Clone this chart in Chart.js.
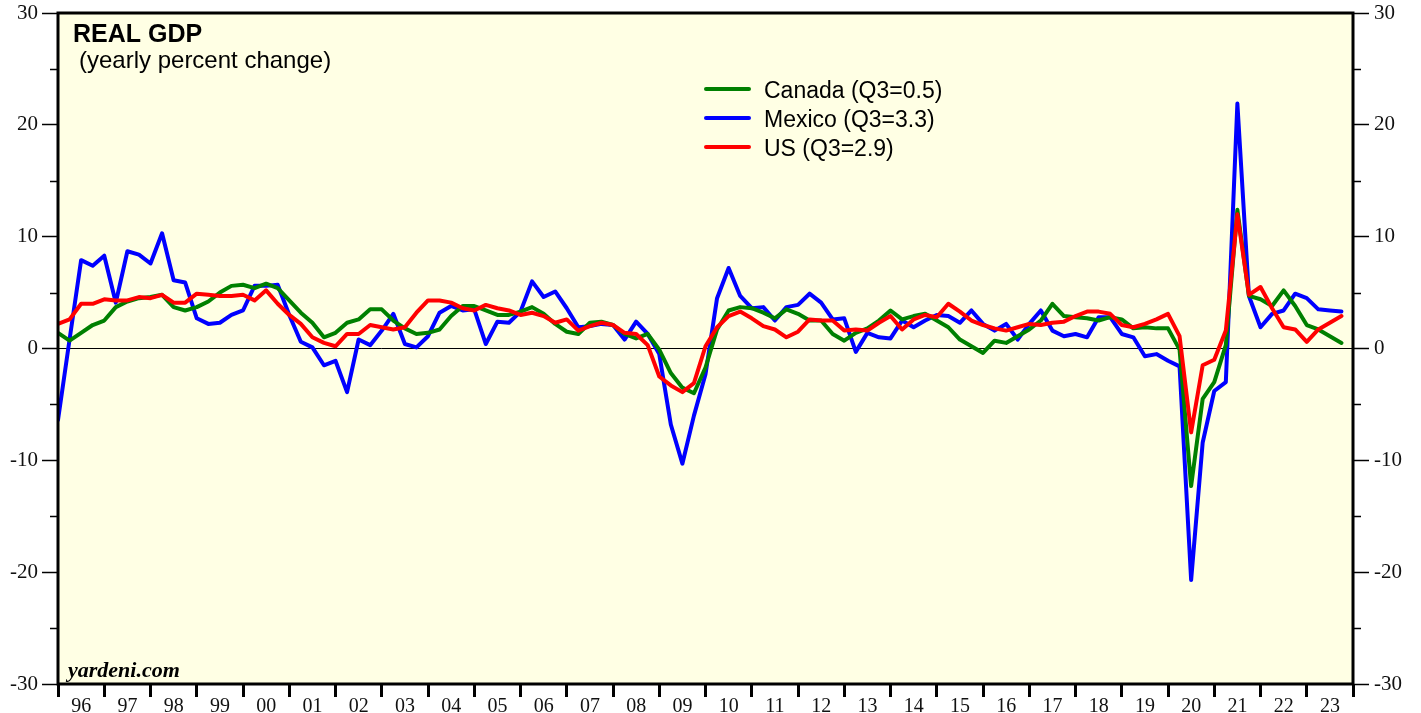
<!DOCTYPE html>
<html>
<head>
<meta charset="utf-8">
<title>Real GDP</title>
<script src="https://cdn.jsdelivr.net/npm/chart.js@4.4.1/dist/chart.umd.min.js"></script>
<style>
  html, body { margin: 0; padding: 0; background: #ffffff; }
  #wrap { width: 1421px; height: 713px; }
</style>
</head>
<body>
<div id="wrap"><canvas id="gdpChart" width="1421" height="713"></canvas></div>
<script>
// year labels under the x axis (one per year, centred in the year)
const yearLabels = ["96", "97", "98", "99", "00", "01", "02", "03", "04", "05", "06", "07", "08", "09",
  "10", "11", "12", "13", "14", "15", "16", "17", "18", "19", "20", "21", "22", "23"];

// first value is 1995 Q4, last is 2023 Q3 (quarterly, yearly % change)
const firstYear = 1996;

const canadaValues = [
  1.4, 0.7, 1.4, 2.1, 2.5, 3.7, 4.2, 4.5, 4.6, 4.8, 3.7, 3.4, 3.7, 4.2, 5.0, 5.6,
  5.7, 5.4, 5.8, 5.4, 4.3, 3.2, 2.3, 1.0, 1.4, 2.3, 2.6, 3.5, 3.5, 2.5, 1.8, 1.3,
  1.4, 1.7, 2.9, 3.8, 3.8, 3.4, 3.0, 3.0, 3.3, 3.7, 3.1, 2.2, 1.5, 1.3, 2.3, 2.4,
  2.1, 1.3, 0.9, 1.3, -0.1, -2.2, -3.5, -4.0, -1.7, 1.7, 3.4, 3.7, 3.6, 3.2, 2.7, 3.5,
  3.1, 2.5, 2.5, 1.3, 0.7, 1.4, 1.8, 2.5, 3.4, 2.6, 2.9, 3.1, 2.5, 1.9, 0.8, 0.2,
  -0.4, 0.7, 0.5, 1.1, 1.7, 2.5, 4.0, 2.9, 2.8, 2.7, 2.5, 2.8, 2.6, 1.8, 1.9, 1.8,
  1.8, -0.1, -12.3, -4.5, -3.0, 0.3, 12.4, 4.7, 4.4, 3.8, 5.2, 3.8, 2.1, 1.7, 1.1, 0.5
];

const mexicoValues = [
  -6.4, 0.8, 7.9, 7.4, 8.3, 4.1, 8.7, 8.4, 7.6, 10.3, 6.1, 5.9, 2.7, 2.2, 2.3, 3.0,
  3.4, 5.6, 5.6, 5.7, 3.0, 0.6, 0.1, -1.5, -1.1, -3.9, 0.8, 0.3, 1.6, 3.1, 0.4, 0.1,
  1.1, 3.2, 3.8, 3.4, 3.5, 0.4, 2.4, 2.3, 3.3, 6.0, 4.6, 5.1, 3.6, 1.9, 2.0, 2.2,
  2.1, 0.8, 2.4, 1.3, -0.5, -6.8, -10.3, -6.0, -2.3, 4.5, 7.2, 4.7, 3.6, 3.7, 2.5, 3.7,
  3.9, 4.9, 4.1, 2.6, 2.7, -0.3, 1.4, 1.0, 0.9, 2.5, 1.9, 2.5, 3.0, 2.9, 2.3, 3.4,
  2.2, 1.6, 2.2, 0.8, 2.2, 3.4, 1.6, 1.1, 1.3, 1.0, 2.8, 2.8, 1.3, 1.0, -0.7, -0.5,
  -1.1, -1.6, -20.7, -8.4, -3.8, -3.0, 21.9, 4.7, 1.9, 3.1, 3.4, 4.9, 4.5, 3.5, 3.4, 3.3
];

const usValues = [
  2.2, 2.6, 4.0, 4.0, 4.4, 4.3, 4.3, 4.6, 4.5, 4.8, 4.1, 4.1, 4.9, 4.8, 4.7, 4.7,
  4.8, 4.3, 5.2, 4.0, 3.0, 2.2, 1.0, 0.5, 0.2, 1.3, 1.3, 2.1, 1.9, 1.7, 1.9, 3.2,
  4.3, 4.3, 4.1, 3.6, 3.4, 3.9, 3.6, 3.4, 3.0, 3.2, 2.9, 2.3, 2.6, 1.6, 2.0, 2.3,
  2.1, 1.4, 1.3, 0.3, -2.5, -3.3, -3.9, -3.1, 0.2, 1.9, 2.9, 3.3, 2.7, 2.0, 1.7, 1.0,
  1.5, 2.6, 2.5, 2.5, 1.6, 1.7, 1.6, 2.3, 2.9, 1.7, 2.6, 3.0, 2.8, 4.0, 3.3, 2.5,
  2.1, 1.8, 1.6, 1.9, 2.2, 2.1, 2.3, 2.4, 2.9, 3.3, 3.3, 3.1, 2.1, 1.9, 2.2, 2.6,
  3.1, 1.1, -7.5, -1.5, -1.0, 1.6, 12.0, 4.8, 5.5, 3.6, 1.9, 1.7, 0.6, 1.7, 2.3, 2.9
];

// place each quarterly value at the end of its quarter
const toPoints = (vals) => vals.map((v, i) => ({ x: firstYear + i / 4, y: v }));

const tickFont = { family: "'Liberation Serif', 'Times New Roman', serif", size: 21 };

// background, frame, minor ticks, titles and legend
const gdpDecor = {
  id: "gdpDecor",
  beforeDraw(chart) {
    const { ctx, chartArea } = chart;
    ctx.save();
    ctx.fillStyle = "#ffffe4";
    ctx.fillRect(chartArea.left, chartArea.top, chartArea.right - chartArea.left, chartArea.bottom - chartArea.top);
    ctx.restore();
  },
  afterDraw(chart) {
    const { ctx, chartArea } = chart;
    const yScale = chart.scales.y;
    ctx.save();

    // frame
    ctx.strokeStyle = "#000";
    ctx.lineWidth = 3;
    ctx.strokeRect(chartArea.left, chartArea.top, chartArea.right - chartArea.left, chartArea.bottom - chartArea.top);

    // minor ticks between the labelled ones
    ctx.lineWidth = 1.5;
    [-25, -15, -5, 5, 15, 25].forEach((v) => {
      const py = Math.round(yScale.getPixelForValue(v)) + 0.5;
      ctx.beginPath();
      ctx.moveTo(chartArea.left - 8, py);
      ctx.lineTo(chartArea.left, py);
      ctx.moveTo(chartArea.right, py);
      ctx.lineTo(chartArea.right + 8, py);
      ctx.stroke();
    });

    // titles
    ctx.fillStyle = "#000";
    ctx.textBaseline = "alphabetic";
    ctx.font = "bold 25px 'Liberation Sans', Arial, sans-serif";
    ctx.fillText("REAL GDP", 73, 42);
    ctx.font = "24px 'Liberation Sans', Arial, sans-serif";
    ctx.fillText("(yearly percent change)", 79, 68);
    ctx.font = "italic bold 22px 'Liberation Serif', 'Times New Roman', serif";
    ctx.fillText("yardeni.com", 68, 677);

    // legend
    ctx.font = "23px 'Liberation Sans', Arial, sans-serif";
    chart.data.datasets.forEach((ds, i) => {
      const ly = 89 + i * 29;
      ctx.strokeStyle = ds.borderColor;
      ctx.lineWidth = 4;
      ctx.lineCap = "round";
      ctx.beginPath();
      ctx.moveTo(706, ly);
      ctx.lineTo(749, ly);
      ctx.stroke();
      ctx.fillStyle = "#000";
      ctx.fillText(ds.label, 764, ly + 8.5);
    });
    ctx.restore();
  }
};

const lineStyle = {
  fill: false,
  borderWidth: 4,
  pointRadius: 0,
  tension: 0,
  borderJoinStyle: "round",
  borderCapStyle: "round"
};

// keep the plot frame exactly where the reference has it
const fixWidth = (w) => (scale) => {
  scale.width = w;
  scale.paddingTop = 0;
  scale.paddingBottom = 0;
};

new Chart(document.getElementById("gdpChart"), {
  type: "line",
  data: {
    datasets: [
      { label: "Canada (Q3=0.5)", data: toPoints(canadaValues), borderColor: "#008000", order: 1, ...lineStyle },
      { label: "Mexico (Q3=3.3)", data: toPoints(mexicoValues), borderColor: "#0000ff", order: 2, ...lineStyle },
      { label: "US (Q3=2.9)", data: toPoints(usValues), borderColor: "#ff0000", order: 0, ...lineStyle }
    ]
  },
  options: {
    responsive: false,
    animation: false,
    layout: { padding: { top: 13, left: 0, right: 0, bottom: 0 } },
    plugins: {
      legend: { display: false },
      tooltip: { enabled: false },
      title: { display: false }
    },
    scales: {
      x: {
        type: "linear",
        min: 1996,
        max: 2024,
        afterBuildTicks: (scale) => {
          const ticks = [];
          for (let yr = 1996; yr <= 2024; yr++) {
            ticks.push({ value: yr });
            if (yr < 2024) ticks.push({ value: yr + 0.5 });
          }
          scale.ticks = ticks;
        },
        afterFit: (scale) => {
          scale.height = 29;
          scale.paddingLeft = 0;
          scale.paddingRight = 0;
        },
        border: { display: false },
        grid: {
          drawOnChartArea: false,
          drawTicks: true,
          tickLength: 13,
          tickWidth: 3,
          tickColor: (ctx) => (ctx.tick && ctx.tick.value % 1 === 0 ? "#000" : "rgba(0,0,0,0)")
        },
        ticks: {
          autoSkip: false,
          maxRotation: 0,
          padding: -2,
          font: { family: "'Liberation Serif', 'Times New Roman', serif", size: 20 },
          color: "#111",
          callback: (v) => (v % 1 === 0 ? "" : yearLabels[Math.floor(v) - firstYear])
        }
      },
      y: {
        position: "left",
        min: -30,
        max: 30,
        afterFit: fixWidth(58),
        border: { display: false },
        grid: {
          drawOnChartArea: true,
          color: (ctx) => (ctx.tick && ctx.tick.value === 0 ? "#000" : "rgba(0,0,0,0)"),
          lineWidth: 1,
          drawTicks: true,
          tickLength: 16,
          tickWidth: 1.5,
          tickColor: "#000"
        },
        ticks: { stepSize: 10, padding: 4, font: tickFont, color: "#111" }
      },
      y2: {
        position: "right",
        min: -30,
        max: 30,
        afterFit: fixWidth(68),
        border: { display: false },
        grid: {
          drawOnChartArea: false,
          drawTicks: true,
          tickLength: 16,
          tickWidth: 1.5,
          tickColor: "#000"
        },
        ticks: { stepSize: 10, padding: 5, font: tickFont, color: "#111" }
      }
    }
  },
  plugins: [gdpDecor]
});
</script>
</body>
</html>
